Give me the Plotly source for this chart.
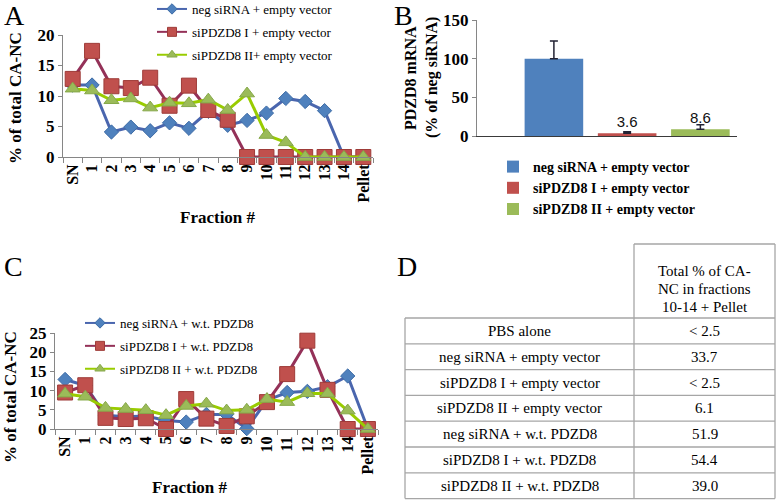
import plotly.graph_objects as go

W, H = 777, 501
def px(x): return x / W
def py(y): return 1 - y / H

SERIF = "Liberation Serif"
SANS = "Liberation Sans"

# ---------------- data ----------------
fractions = ["SN", "1", "2", "3", "4", "5", "6", "7", "8", "9", "10", "11", "12", "13", "14", "Pellet"]

a_names = ["neg siRNA + empty vector", "siPDZD8 I + empty vector", "siPDZD8 II+ empty vector"]
a_neg = [11.8, 11.8, 4.1, 4.9, 4.3, 5.6, 4.7, 7.5, 5.2, 6.0, 7.2, 9.6, 9.1, 7.6, 0.0, 0.0]
a_si1 = [12.8, 17.4, 11.6, 11.3, 13.0, 8.4, 11.7, 7.7, 6.1, 0.0, 0.0, 0.0, 0.0, 0.0, 0.0, 0.0]
a_si2 = [11.2, 10.9, 9.3, 9.6, 8.1, 8.9, 8.8, 9.4, 7.7, 10.4, 3.6, 2.4, 0.0, 0.0, 0.0, 0.0]

b_names = ["neg siRNA + empty vector", "siPDZD8 I + empty vector", "siPDZD8 II + empty vector"]
b_values = [100.0, 3.6, 8.6]
b_errors = [23.0, 2.0, 6.0]
b_labels = ["", "3.6", "8.6"]

c_names = ["neg siRNA + w.t. PDZD8", "siPDZD8 I + w.t. PDZD8", "siPDZD8 II + w.t. PDZD8"]
c_neg = [12.9, 11.3, 3.6, 3.2, 3.4, 2.2, 1.8, 3.8, 3.8, 0.1, 7.5, 9.5, 9.8, 11.0, 13.8, 0.0]
c_si1 = [9.5, 11.4, 2.9, 2.6, 2.8, 0.0, 7.8, 2.7, 0.8, 3.3, 7.0, 14.3, 23.0, 10.2, 0.0, 0.0]
c_si2 = [9.2, 8.4, 5.5, 5.2, 4.9, 3.6, 6.0, 6.6, 4.8, 5.0, 7.8, 7.0, 9.3, 9.2, 4.8, 0.0]

d_conditions = ["PBS alone", "neg siRNA + empty vector", "siPDZD8 I + empty vector",
                "siPDZD8 II + empty vector", "neg siRNA + w.t. PDZD8", "siPDZD8 I + w.t. PDZD8",
                "siPDZD8 II + w.t. PDZD8"]
d_totals = ["< 2.5", "33.7", "< 2.5", "6.1", "51.9", "54.4", "39.0"]
d_header = ["Total % of CA-", "NC in fractions", "10-14 + Pellet"]

# ---------------- styles ----------------
line_cols = ["#4A66AE", "#943158", "#99CC00"]
mk_cols = ["#4F81BD", "#C0504D", "#9BBB59"]
mk_line = ["#3E6CA6", "#9E3B38", "#86A84A"]
symbols = ["diamond", "square", "triangle-up"]
sizes_main = [11, 15, 13]
sizes_leg = [8, 9, 9]
bar_cols = ["#4F81BD", "#C0504D", "#9BBB59"]

fig = go.Figure()

def add_lines(series, names, xa, ya, legend):
    for i, (vals, name) in enumerate(zip(series, names)):
        fig.add_trace(go.Scatter(
            x=fractions, y=vals, mode="lines+markers", name=name, showlegend=False,
            xaxis=xa, yaxis=ya, cliponaxis=False,
            line=dict(color=line_cols[i], width=3),
            marker=dict(symbol=symbols[i], size=sizes_main[i], color=mk_cols[i],
                        line=dict(color=mk_line[i], width=1))))
    for i, name in enumerate(names):
        fig.add_trace(go.Scatter(
            x=[None], y=[None], mode="lines+markers", name=name, legend=legend,
            legendgroup=legend + str(i), xaxis=xa, yaxis=ya,
            line=dict(color=line_cols[i], width=2),
            marker=dict(symbol=symbols[i], size=sizes_leg[i], color=mk_cols[i],
                        line=dict(color=mk_line[i], width=1))))

add_lines([a_neg, a_si1, a_si2], a_names, "x", "y", "legend")
add_lines([c_neg, c_si1, c_si2], c_names, "x3", "y3", "legend3")

for i in range(3):
    fig.add_trace(go.Bar(
        x=[b_names[i]], y=[b_values[i]], name=b_names[i], xaxis="x2", yaxis="y2",
        legend="legend2", legendgroup="b" + str(i), width=0.8,
        marker=dict(color=bar_cols[i], line=dict(width=0)),
        error_y=dict(type="data", array=[b_errors[i]], symmetric=False, arrayminus=[0],
                     color="#222233", thickness=1.5, width=4),
        text=[b_labels[i]], textposition="outside", cliponaxis=False,
        textfont=dict(family=SANS, size=15, color="#111111")))

axis_gray = "#868686"
tick_bold = dict(family=SERIF, size=16, color="black", weight="bold")
ytick_bold = dict(family=SERIF, size=17, color="black", weight="bold")

def cat_axis(domain, anchor):
    return dict(domain=domain, anchor=anchor, type="category", categoryarray=fractions,
                range=[-0.5, 15.5], tickson="boundaries", ticks="outside", ticklen=5,
                tickcolor=axis_gray, tickangle=-90, showline=True, linecolor=axis_gray,
                showgrid=False, zeroline=False, tickfont=tick_bold, fixedrange=True,
                automargin=False)

def val_axis(domain, anchor, rng, dtick):
    return dict(domain=domain, anchor=anchor, range=rng, dtick=dtick, ticks="outside",
                ticklen=4, tickcolor=axis_gray, showline=True, linecolor=axis_gray,
                showgrid=False, zeroline=False, tickfont=ytick_bold, fixedrange=True,
                automargin=False)

fig.update_layout(
    width=W, height=H, margin=dict(l=0, r=0, t=0, b=0, pad=0, autoexpand=False),
    paper_bgcolor="white", plot_bgcolor="white", barmode="overlay",
    xaxis=cat_axis([px(63), px(373)], "y"),
    yaxis=val_axis([py(157), py(35)], "x", [0, 20], 5),
    xaxis3=cat_axis([px(55), px(378)], "y3"),
    yaxis3=val_axis([py(429), py(333)], "x3", [0, 25], 5),
    xaxis2=dict(domain=[px(477), px(737)], anchor="y2", range=[-1.05, 2.5],
                showticklabels=False, ticks="", showline=True, linecolor="#3A3A3A",
                showgrid=False, zeroline=False, fixedrange=True, automargin=False),
    yaxis2=val_axis([py(136), py(20)], "x2", [0, 150], 50),
    legend=dict(x=px(152), y=py(-6), xanchor="left", yanchor="top", bgcolor="rgba(0,0,0,0)",
                font=dict(family=SERIF, size=13, color="black"), tracegroupgap=3,
                itemwidth=30),
    legend2=dict(x=px(493), y=py(151), xanchor="left", yanchor="top", bgcolor="rgba(0,0,0,0)",
                 font=dict(family=SERIF, size=14, color="black", weight="bold"),
                 tracegroupgap=0, itemwidth=30),
    legend3=dict(x=px(80), y=py(308), xanchor="left", yanchor="top", bgcolor="rgba(0,0,0,0)",
                 font=dict(family=SERIF, size=13, color="black"), tracegroupgap=3,
                 itemwidth=30),
    showlegend=True,
)

ann = []
def label(x, y, text, size, bold=False, angle=0, family=SERIF, xanchor="center"):
    ann.append(dict(x=px(x), y=py(y), xref="paper", yref="paper", text=text, showarrow=False,
                    textangle=angle, xanchor=xanchor, yanchor="middle",
                    font=dict(family=family, size=size, color="black",
                              weight="bold" if bold else "normal")))

label(2, 15, "A", 28, xanchor="left")
label(392, 15, "B", 28, xanchor="left")
label(2, 266, "C", 28, xanchor="left")
label(395, 266, "D", 28, xanchor="left")
label(218, 218, "Fraction #", 17, bold=True)
label(190, 487, "Fraction #", 17, bold=True)
label(15, 98, "% of total CA-NC", 17, bold=True, angle=-90)
label(10, 397, "% of total CA-NC", 17, bold=True, angle=-90)
label(410, 78, "PDZD8 mRNA", 16, bold=True, angle=-90)
label(432, 78, "(% of neg siRNA)", 16, bold=True, angle=-90)

# ---------------- table (panel D) ----------------
t_left, t_mid, t_right = 405, 634, 775
t_top, t_head_bot, row_h = 244, 318, 25.8
n_rows = len(d_conditions)
t_bot = t_head_bot + n_rows * row_h
grid = "#A6A6A6"
shapes = []
def seg(x0, y0, x1, y1):
    shapes.append(dict(type="line", xref="paper", yref="paper", x0=px(x0), y0=py(y0),
                       x1=px(x1), y1=py(y1), line=dict(color=grid, width=1.3)))
seg(t_mid, t_top, t_right, t_top)
for k in range(n_rows + 1):
    yk = t_head_bot + k * row_h
    seg(t_left, yk, t_right, yk)
seg(t_left, t_head_bot, t_left, t_bot)
seg(t_mid, t_top, t_mid, t_bot)
seg(t_right, t_top, t_right, t_bot)

hc = (t_mid + t_right) / 2
for j, line in enumerate(d_header):
    label(hc, 271 + j * 18, line, 15)
for k, (cond, tot) in enumerate(zip(d_conditions, d_totals)):
    yc = t_head_bot + (k + 0.5) * row_h
    label((t_left + t_mid) / 2, yc, cond, 15)
    label(hc, yc, tot, 15)

fig.update_layout(annotations=ann, shapes=shapes)

fig.write_html("out.html", config={"displayModeBar": False},
               post_script="document.body.style.margin='0px';document.body.style.overflow='hidden';")
